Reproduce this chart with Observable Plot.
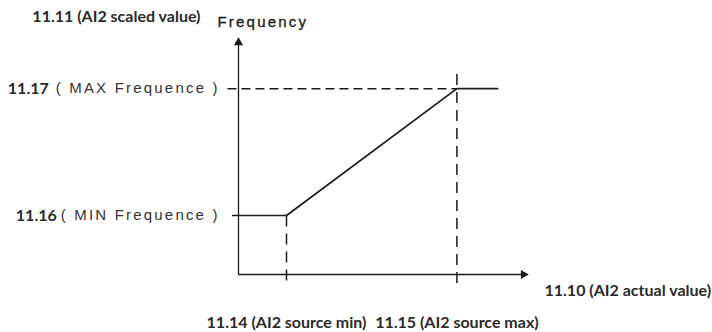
<!DOCTYPE html>
<html>
<head>
<meta charset="utf-8">
<script src="https://cdn.jsdelivr.net/npm/d3@7"></script>
<script src="https://cdn.jsdelivr.net/npm/@observablehq/plot@0.6"></script>
<style>
  html, body { margin: 0; padding: 0; background: #fff; }
  #chart svg { display: block; overflow: visible; }
</style>
</head>
<body>
<div id="chart"></div>
<script>
// ---- data (abstract units) ----
const axisEnd = {x: 6, y: 4};
const sourceX = [1, 4.55];               // 11.14 source min, 11.15 source max
const freqY = [1, 3.15];                 // 11.16 min frequency, 11.17 max frequency
const curveX = [-0.12, 1, 4.55, 5.4];
const curveY = [1, 1, 3.15, 3.15];
const xLabels = ["11.14 (AI2 source min)", "11.15 (AI2 source max)"];
const yCodes = ["11.16", "11.17"];
const yDescs = ["( MIN Frequence )", "( MAX Frequence )"];
const xAxisTitle = "11.10 (AI2 actual value)";
const yAxisTitle = "11.11 (AI2 scaled value)";
const yAxisName = "Frequency";

const curve = curveX.map((x, i) => ({x, y: curveY[i]}));
const dashedH = [
  {x1: -0.23, y1: freqY[1], x2: sourceX[1], y2: freqY[1]}
];
const dashedV = [
  {x1: sourceX[0], y1: freqY[0], x2: sourceX[0], y2: -0.22},
  {x1: sourceX[1], y1: 3.4, x2: sourceX[1], y2: -0.22}
];
const axes = [
  {x1: 0, y1: 0, x2: axisEnd.x, y2: 0},
  {x1: 0, y1: 0, x2: 0, y2: axisEnd.y}
];

const ink = "#1a1a1a";
const codeInk = "#2a2a2a";
const descInk = "#333333";
const fontA = "Lato, 'Open Sans', sans-serif";
const fontB = "'Liberation Sans', Arial, sans-serif";

const descMark = (i) => Plot.text([yDescs[i]], {
  x: curveX[0], y: freqY[i], text: d => d, dx: -13,
  fontSize: 15, fontFamily: fontB, fill: descInk, textAnchor: "end"
});
const codeMark = (i, dx) => Plot.text([yCodes[i]], {
  x: curveX[0], y: freqY[i], text: d => d, dx,
  fontSize: 16, fontWeight: "bold", fontFamily: fontA, fill: codeInk, textAnchor: "end"
});

const chart = Plot.plot({
  width: 712,
  height: 332,
  marginLeft: 238,
  marginRight: 186,
  marginTop: 38,
  marginBottom: 58,
  x: {domain: [0, 6], axis: null},
  y: {domain: [0, 4], axis: null},
  style: {background: "#fff", overflow: "visible"},
  marks: [
    Plot.link(axes, {x1: "x1", y1: "y1", x2: "x2", y2: "y2", stroke: ink, strokeWidth: 1.3}),
    Plot.dot([{x: axisEnd.x, y: 0}], {x: "x", y: "y", symbol: "triangle", r: 3.4, fill: ink, stroke: "none", rotate: 90, dx: -3}),
    Plot.dot([{x: 0, y: axisEnd.y}], {x: "x", y: "y", symbol: "triangle", r: 3.4, fill: ink, stroke: "none", rotate: 0, dy: 4}),
    Plot.link(dashedH, {x1: "x1", y1: "y1", x2: "x2", y2: "y2", stroke: ink, strokeWidth: 1.5, strokeDasharray: "9,5"}),
    Plot.link(dashedV, {x1: "x1", y1: "y1", x2: "x2", y2: "y2", stroke: ink, strokeWidth: 1.5, strokeDasharray: "11,7"}),
    Plot.line(curve, {x: "x", y: "y", stroke: ink, strokeWidth: 1.7}),
    Plot.text(xLabels, {x: (d, i) => sourceX[i], y: 0, text: d => d, dy: 48, fontSize: 16, fontWeight: "bold", fontFamily: fontA, fill: codeInk, textAnchor: "middle"}),
    descMark(0), descMark(1),
    codeMark(0, -176), codeMark(1, -184),
    Plot.text([xAxisTitle], {x: axisEnd.x, y: 0, text: d => d, dx: 18, dy: 16, fontSize: 16, fontWeight: "bold", fontFamily: fontA, fill: codeInk, textAnchor: "start"}),
    Plot.text([yAxisTitle], {x: 0, y: axisEnd.y, text: d => d, dx: -38, dy: -22, fontSize: 16, fontWeight: "bold", fontFamily: fontA, fill: codeInk, textAnchor: "end"}),
    Plot.text([yAxisName], {x: 0, y: axisEnd.y, text: d => d, dx: -21, dy: -16, fontSize: 15, fontFamily: fontB, fill: "#1e1e1e", stroke: "#1e1e1e", strokeWidth: 0.35, textAnchor: "start"})
  ]
});
// letter-spaced labels, as in the original artwork
d3.select(chart).selectAll("text")
  .filter(function () { return yDescs.includes(this.textContent) || this.textContent === yAxisName; })
  .style("letter-spacing", "2.2px");
document.getElementById("chart").append(chart);
</script>
</body>
</html>
